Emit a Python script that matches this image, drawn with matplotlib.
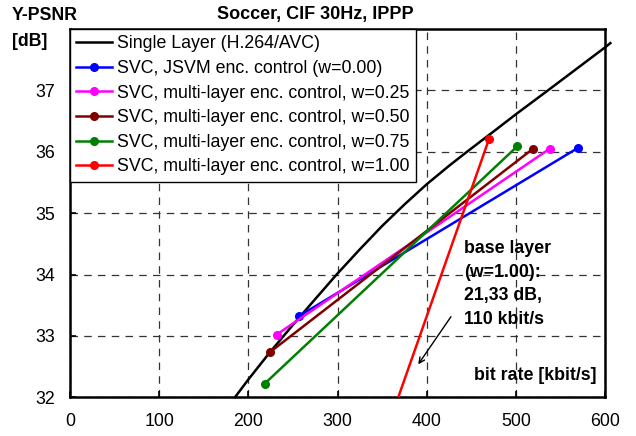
import matplotlib
matplotlib.use("Agg")
import matplotlib.pyplot as plt

plt.rcParams['font.family'] = ['Liberation Sans', 'DejaVu Sans']

# Single layer (H.264/AVC) rate-distortion curve
single_rate = [185, 200, 224, 250, 275, 299, 325, 350, 375, 400, 425, 447, 475, 500, 536, 600, 606]
single_psnr = [32.0, 32.29, 32.73, 33.18, 33.60, 34.0, 34.41, 34.79, 35.14, 35.47, 35.77, 36.02,
               36.33, 36.61, 37.0, 37.70, 37.77]

# SVC two-point lines (base/low point, enhancement point)
svc_labels = ["SVC, JSVM enc. control (w=0.00)",
              "SVC, multi-layer enc. control, w=0.25",
              "SVC, multi-layer enc. control, w=0.50",
              "SVC, multi-layer enc. control, w=0.75",
              "SVC, multi-layer enc. control, w=1.00"]
svc_colors = ["#0000FF", "#FF00FF", "#800000", "#008000", "#FF0000"]
svc_rate = [[256.5, 569.3], [231.6, 538.0], [223.8, 519.3], [218.2, 501.7], [110.0, 470.0]]
svc_psnr = [[33.32, 36.06], [33.02, 36.05], [32.73, 36.05], [32.22, 36.09], [21.33, 36.21]]

xticks = [0, 100, 200, 300, 400, 500, 600]
yticks = [32, 33, 34, 35, 36, 37]

FS = 12.8
W, H = 636, 436
fig = plt.figure(figsize=(W / 100, H / 100), dpi=100)
ax = fig.add_axes([70 / W, 38.7 / H, 535 / W, 368.3 / H])

ax.set_xlim(0, 600)
ax.set_ylim(32, 38)
ax.set_xticks(xticks)
ax.set_yticks(yticks)
ax.tick_params(direction='in', length=4, width=1.2, labelsize=FS)
ax.tick_params(axis='x', pad=11)
ax.tick_params(axis='y', pad=11)
for s in ax.spines.values():
    s.set_linewidth(1.8)
ax.grid(True, color='#333333', linestyle=(0, (6, 5)), linewidth=0.9)
ax.set_axisbelow(True)

ax.plot(single_rate, single_psnr, color='black', lw=1.8, label="Single Layer (H.264/AVC)",
        clip_on=False, zorder=3)
for lab, col, r, p in zip(svc_labels, svc_colors, svc_rate, svc_psnr):
    ax.plot(r, p, color=col, lw=1.8, marker='o', markersize=5.5, label=lab, zorder=4)

leg = ax.legend(loc='upper left', bbox_to_anchor=(0, 1), borderaxespad=0,
                fontsize=FS, handlelength=2.0, handletextpad=0.3,
                labelspacing=0.43, borderpad=0.35, fancybox=False,
                framealpha=1, edgecolor='black')
leg.get_frame().set_linewidth(1.0)
leg.set_zorder(5)

ax.text(442, 34.56, "base layer\n(w=1.00):\n21,33 dB,\n110 kbit/s", fontsize=FS,
        fontweight='bold', va='top', ha='left', linespacing=1.5)
ax.annotate("", xy=(388.8, 32.50), xytext=(429, 33.35),
            arrowprops=dict(arrowstyle='->', color='black', lw=1.0))
ax.text(590, 32.35, "bit rate [kbit/s]", fontsize=FS, fontweight='bold',
        ha='right', va='center')

fig.text(315 / W, 1 - 14 / H, "Soccer, CIF 30Hz, IPPP", fontsize=13,
         fontweight='bold', ha='center', va='center')
fig.text(12 / W, 1 - 16 / H, "Y-PSNR", fontsize=FS, fontweight='bold',
         ha='left', va='center')
fig.text(12 / W, 1 - 42 / H, "[dB]", fontsize=FS, fontweight='bold',
         ha='left', va='center')

fig.savefig("out.png", dpi=100)
